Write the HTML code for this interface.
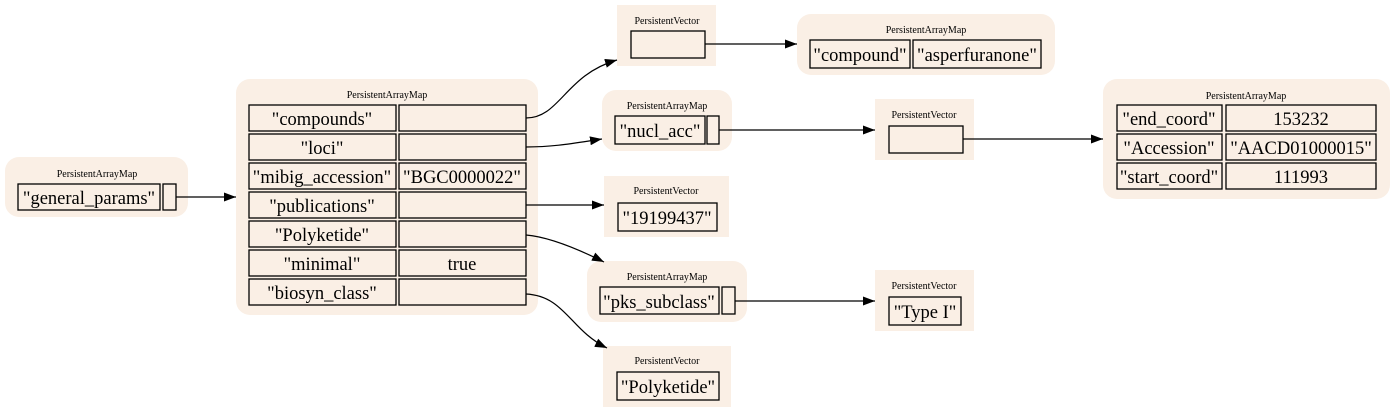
<!DOCTYPE html>
<html><head><meta charset="utf-8"><style>
html,body{margin:0;padding:0;background:#fff;}
svg{display:block;}
.bg{fill:#faefe5;stroke:none;}
.c{fill:#faefe5;stroke:#000;stroke-width:1.3;}
.t{font-family:"Liberation Serif",serif;font-size:10px;text-anchor:middle;fill:#000;}
.v{font-family:"Liberation Serif",serif;font-size:18.5px;text-anchor:middle;fill:#000;}
.e{fill:none;stroke:#000;stroke-width:1.2;}
</style></head><body>
<svg width="1395" height="413" viewBox="0 0 1395 413" xmlns="http://www.w3.org/2000/svg">
<defs><marker id="a" markerWidth="12" markerHeight="9" refX="12" refY="4.5" orient="auto" markerUnits="userSpaceOnUse"><path d="M0,0 L12,4.5 L0,9 z" fill="#000"/></marker></defs>

<!-- A -->
<rect class="bg" x="5" y="157" width="183" height="60" rx="14"/>
<text class="t" x="97" y="177">PersistentArrayMap</text>
<rect class="c" x="18" y="184" width="142" height="26"/><text class="v" x="89" y="204">"general_params"</text>
<rect class="c" x="163" y="184" width="13" height="26"/>

<!-- B -->
<rect class="bg" x="236" y="79" width="302" height="236" rx="14"/>
<text class="t" x="387" y="98">PersistentArrayMap</text>
<g>
<rect class="c" x="249" y="105" width="147" height="26"/><rect class="c" x="399" y="105" width="127" height="26"/>
<text class="v" x="322" y="125">"compounds"</text>
<rect class="c" x="249" y="134" width="147" height="26"/><rect class="c" x="399" y="134" width="127" height="26"/>
<text class="v" x="322" y="154">"loci"</text>
<rect class="c" x="249" y="163" width="147" height="26"/><rect class="c" x="399" y="163" width="127" height="26"/>
<text class="v" x="322" y="183">"mibig_accession"</text><text class="v" x="462" y="183">"BGC0000022"</text>
<rect class="c" x="249" y="192" width="147" height="26"/><rect class="c" x="399" y="192" width="127" height="26"/>
<text class="v" x="322" y="212">"publications"</text>
<rect class="c" x="249" y="221" width="147" height="26"/><rect class="c" x="399" y="221" width="127" height="26"/>
<text class="v" x="322" y="241">"Polyketide"</text>
<rect class="c" x="249" y="250" width="147" height="26"/><rect class="c" x="399" y="250" width="127" height="26"/>
<text class="v" x="322" y="270">"minimal"</text><text class="v" x="462" y="270">true</text>
<rect class="c" x="249" y="279" width="147" height="26"/><rect class="c" x="399" y="279" width="127" height="26"/>
<text class="v" x="322" y="299">"biosyn_class"</text>
</g>

<!-- PV1 -->
<rect class="bg" x="617" y="5" width="99" height="61"/>
<text class="t" x="667" y="24">PersistentVector</text>
<rect class="c" x="631" y="31" width="74" height="27"/>

<!-- compound map -->
<rect class="bg" x="797" y="14" width="258" height="61" rx="14"/>
<text class="t" x="926" y="33">PersistentArrayMap</text>
<rect class="c" x="810" y="40" width="100" height="28"/><text class="v" x="860" y="61">"compound"</text>
<rect class="c" x="913" y="40" width="128" height="28"/><text class="v" x="977" y="61">"asperfuranone"</text>

<!-- nucl_acc -->
<rect class="bg" x="602" y="90" width="130" height="61" rx="14"/>
<text class="t" x="667" y="109">PersistentArrayMap</text>
<rect class="c" x="615" y="116" width="90" height="28"/><text class="v" x="660" y="137">"nucl_acc"</text>
<rect class="c" x="707" y="116" width="12" height="28"/>

<!-- PV2 -->
<rect class="bg" x="875" y="99" width="99" height="61"/>
<text class="t" x="924" y="118">PersistentVector</text>
<rect class="c" x="889" y="126" width="74" height="27"/>

<!-- big right -->
<rect class="bg" x="1103" y="79" width="287" height="120" rx="14"/>
<text class="t" x="1246" y="99">PersistentArrayMap</text>
<rect class="c" x="1117" y="105" width="105" height="26"/><rect class="c" x="1226" y="105" width="150" height="26"/>
<text class="v" x="1169" y="125">"end_coord"</text><text class="v" x="1301" y="125">153232</text>
<rect class="c" x="1117" y="134" width="105" height="26"/><rect class="c" x="1226" y="134" width="150" height="26"/>
<text class="v" x="1169" y="154">"Accession"</text><text class="v" x="1301" y="154">"AACD01000015"</text>
<rect class="c" x="1117" y="163" width="105" height="26"/><rect class="c" x="1226" y="163" width="150" height="26"/>
<text class="v" x="1169" y="183">"start_coord"</text><text class="v" x="1301" y="183">111993</text>

<!-- publications PV -->
<rect class="bg" x="604" y="176" width="125" height="61"/>
<text class="t" x="666" y="194">PersistentVector</text>
<rect class="c" x="618" y="203" width="99" height="28"/><text class="v" x="667" y="224">"19199437"</text>

<!-- pks -->
<rect class="bg" x="587" y="261" width="160" height="61" rx="14"/>
<text class="t" x="667" y="280">PersistentArrayMap</text>
<rect class="c" x="600" y="287" width="119" height="27"/><text class="v" x="659" y="308">"pks_subclass"</text>
<rect class="c" x="722" y="287" width="13" height="27"/>

<!-- Type I -->
<rect class="bg" x="875" y="270" width="99" height="61"/>
<text class="t" x="924" y="289">PersistentVector</text>
<rect class="c" x="889" y="297" width="72" height="28"/><text class="v" x="925" y="318">"Type I"</text>

<!-- Polyketide PV -->
<rect class="bg" x="603" y="346" width="128" height="61"/>
<text class="t" x="667" y="364">PersistentVector</text>
<rect class="c" x="617" y="372" width="102" height="28"/><text class="v" x="668" y="393">"Polyketide"</text>

<!-- edges -->
<path class="e" d="M176,197 L236,197" marker-end="url(#a)"/>
<path class="e" d="M526,118 C560,118 565,75 617,60" marker-end="url(#a)"/>
<path class="e" d="M526,147 C555,147 575,143 602,139" marker-end="url(#a)"/>
<path class="e" d="M526,205 L604,205" marker-end="url(#a)"/>
<path class="e" d="M526,235 C550,237 580,250 604,262" marker-end="url(#a)"/>
<path class="e" d="M526,294 C565,296 570,330 607,348" marker-end="url(#a)"/>
<path class="e" d="M705,44 L797,44" marker-end="url(#a)"/>
<path class="e" d="M719,130 L875,130" marker-end="url(#a)"/>
<path class="e" d="M963,139 L1103,139" marker-end="url(#a)"/>
<path class="e" d="M735,301 L875,301" marker-end="url(#a)"/>
</svg>
</body></html>
